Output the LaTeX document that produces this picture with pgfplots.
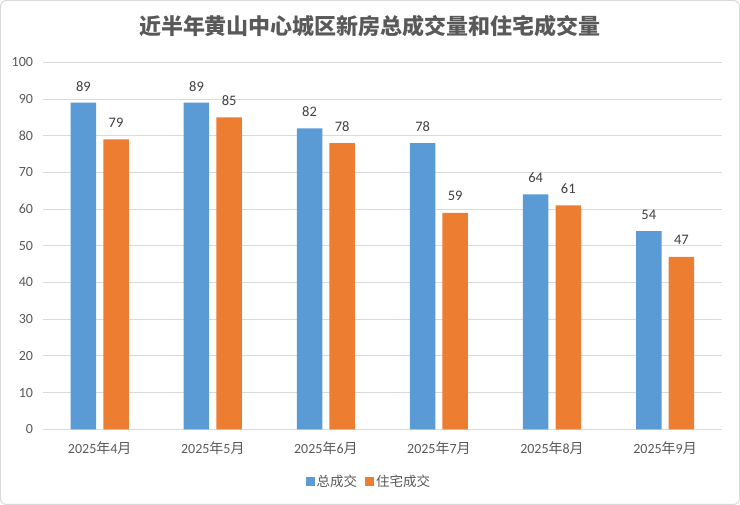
\documentclass[border=0pt]{standalone}
\usepackage{pgfplots}
\pgfplotsset{compat=1.18}
\usepackage{fontspec}
\setmainfont{Carlito}
\newfontfamily\cjk{Noto Sans CJK SC}
\definecolor{cblue}{HTML}{5B9BD5}
\definecolor{corange}{HTML}{ED7D31}
\definecolor{tgray}{HTML}{595959}
\definecolor{vgray}{HTML}{404040}
\definecolor{ggray}{HTML}{D9D9D9}
\begin{document}
\begin{tikzpicture}
\begin{axis}[
  name=ax,
  at={(0,0)}, anchor=south west,
  scale only axis,
  width=678.4pt, height=367pt,
  ybar=0pt, bar width=25.5pt,
  xmin=-0.5, xmax=5.5,
  ymin=0, ymax=100,
  ytick={0,10,...,100},
  xtick={0,1,2,3,4,5},
  xticklabels={2025{\cjk 年}4{\cjk 月},2025{\cjk 年}5{\cjk 月},2025{\cjk 年}6{\cjk 月},2025{\cjk 年}7{\cjk 月},2025{\cjk 年}8{\cjk 月},2025{\cjk 年}9{\cjk 月}},
  major tick length=0pt,
  axis line style={draw=none},
  ymajorgrids, grid style={ggray, line width=0.9pt},
  /pgf/number format/assume math mode=true,
  tick label style={font=\fontsize{14}{16}\selectfont, text=tgray},
  yticklabel style={anchor=east, inner sep=0pt, xshift=-10pt},
  xticklabel style={anchor=center, inner sep=0pt, yshift=-19pt},
  nodes near coords,
  nodes near coords style={font=\fontsize{14.5}{16}\selectfont, text=vgray, anchor=center, yshift=16.5pt, /pgf/number format/assume math mode=true},
  legend columns=2,
  legend style={at={(0.480,-0.141)}, anchor=center, draw=none, fill=none,
    font=\cjk\fontsize{13.5}{16}\selectfont, text=tgray,
    /tikz/every even column/.append style={column sep=6pt}},
  legend image code/.code={\fill[#1] (0pt,-4.5pt) rectangle (9pt,4.5pt);},
]
\addplot[fill=cblue, draw=none, bar shift=-16.3pt] coordinates {(0,89) (1,89) (2,82) (3,78) (4,64) (5,54)};
\addplot[fill=corange, draw=none, bar shift=16.3pt] coordinates {(0,79) (1,85) (2,78) (3,59) (4,61) (5,47)};
\legend{总成交,住宅成交}
\end{axis}
\node[font=\cjk\bfseries\fontsize{22}{26}\selectfont, text=tgray] at ([shift={(326.8pt,403.1pt)}]ax.south west) {近半年黄山中心城区新房总成交量和住宅成交量};
\pgfresetboundingbox
\path[use as bounding box] ([shift={(-43.2pt,-75.7pt)}]ax.south west) rectangle ([shift={(696.8pt,429.3pt)}]ax.south west);
\draw[ggray, line width=1pt, rounded corners=6pt] ([shift={(-42.7pt,-75.2pt)}]ax.south west) rectangle ([shift={(696.3pt,428.8pt)}]ax.south west);
\end{tikzpicture}
\end{document}
